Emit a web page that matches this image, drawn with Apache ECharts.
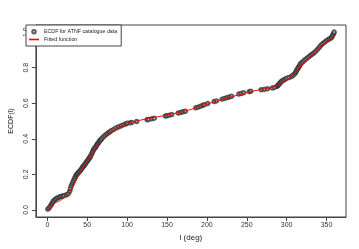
<!DOCTYPE html>
<html><head><meta charset="utf-8">
<script src="https://cdn.jsdelivr.net/npm/echarts@6/dist/echarts.min.js"></script>
<style>html,body{margin:0;padding:0;background:#fff}#c{width:359px;height:249px}</style>
</head><body><div id="c"></div>
<script>
// ECDF points: longitude l (deg) and ECDF value
var ecdfL = [0.5,2,3.5,5,6,7,8,9.5,11,13,15,17,19,21,24,26,
28,29,30,31,32,33,34,35,36,37,38,39,40,41,42,43,44,45,46,47,48,49,50,51,52,53,54,55,56,57,58,59,60,61,62,63,64,65,66,67,68,70,72,74,76,78,80,83,86,89,92,95,98,100,
104,106,112,125,127,131,134,148,150,153,156,164,167,170,173,186,189,192,195,197,201,209,212,219,222,225,228,231,240,243,246,253,255,268,272,276,282,285,
288,289,290,291,292,293,294,296,298,300,303,306,308,310,311,312,313,314,315,316,317,318,320,322,324,326,328,330,332,334,336,338,340,342,344,346,348,350,352,354,356,357,358,359,359.5];
var ecdfF = [0.004,0.01,0.02,0.03,0.037,0.045,0.052,0.058,0.063,0.068,0.072,0.075,0.078,0.08,0.085,0.09,
0.105,0.12,0.135,0.145,0.155,0.165,0.175,0.185,0.195,0.2,0.205,0.21,0.215,0.22,0.225,0.232,0.24,0.245,0.25,0.255,0.262,0.27,0.275,0.28,0.288,0.295,0.3,0.31,0.32,0.33,0.34,0.345,0.35,0.358,0.365,0.372,0.378,0.384,0.39,0.395,0.4,0.41,0.418,0.425,0.432,0.438,0.445,0.452,0.46,0.466,0.472,0.478,0.483,0.487,
0.49,0.492,0.497,0.507,0.509,0.513,0.516,0.528,0.53,0.533,0.536,0.545,0.548,0.552,0.555,0.574,0.578,0.583,0.588,0.592,0.598,0.609,0.613,0.623,0.627,0.631,0.635,0.639,0.652,0.655,0.659,0.665,0.667,0.676,0.678,0.681,0.686,0.689,
0.695,0.7,0.705,0.71,0.715,0.72,0.725,0.73,0.735,0.74,0.745,0.75,0.757,0.765,0.772,0.78,0.788,0.795,0.802,0.81,0.818,0.825,0.832,0.84,0.848,0.855,0.862,0.87,0.876,0.882,0.89,0.9,0.91,0.92,0.93,0.938,0.945,0.952,0.958,0.963,0.968,0.975,0.985,0.993,1.0];
// Fitted function
var fitL = [0,5,10,15,20,25,30,35,40,45,50,55,60,65,70,75,80,90,100,110,120,140,160,180,200,220,240,260,280,290,300,310,320,330,340,350,360];
var fitF = [0,0.025,0.04,0.05,0.065,0.085,0.12,0.16,0.2,0.24,0.275,0.31,0.345,0.375,0.4,0.42,0.44,0.465,0.485,0.497,0.508,0.525,0.543,0.565,0.595,0.622,0.647,0.67,0.688,0.703,0.73,0.77,0.82,0.865,0.91,0.945,0.975];
var xTicks = [0,50,100,150,200,250,300,350];
var yTicks = [0,0.2,0.4,0.6,0.8,1.0];
var yTickLabels = ['0.0','0.2','0.4','0.6','0.8','1.0'];
var seriesNames = ['ECDF for ATNF catalogue data','Fitted function'];

var ecdfData = ecdfL.map(function(v,i){return [v, ecdfF[i]];});
var fitData = fitL.map(function(v,i){return [v, fitF[i]];});
var FONT = 'Liberation Sans, Arial, sans-serif';
var chart = echarts.init(document.getElementById('c'), null, {renderer:'canvas'});
chart.setOption({
  animation:false,
  backgroundColor:'#fff',
  grid:{left:26,right:13,top:25,bottom:32,show:true,borderColor:'#444',borderWidth:1,backgroundColor:'transparent'},
  legend:{
    left:26, top:25, orient:'vertical',
    backgroundColor:'#fff', borderColor:'#444', borderWidth:1, borderRadius:0,
    padding:[4,4,4,3], itemGap:2.5, itemWidth:10, itemHeight:3.5,
    textStyle:{fontSize:5.3, fontFamily:FONT, color:'#222', padding:[0,0,0,0]},
    data:[{name:seriesNames[0], icon:'emptyCircle', itemStyle:{color:'#333',borderColor:'#333',borderWidth:0.5}},
          {name:seriesNames[1], icon:'path://M0,0L10,0L10,1.6L0,1.6Z', itemStyle:{color:'#ff0000',borderWidth:0}}]
  },
  xAxis:{type:'value',min:-14.4,max:374.4,
    name:'l (deg)',nameLocation:'middle',nameGap:16,nameTextStyle:{fontSize:8,fontFamily:FONT,color:'#222'},
    axisLine:{show:true,onZero:false,lineStyle:{color:'#444',width:1}},
    axisTick:{show:true,inside:false,length:4,customValues:xTicks,lineStyle:{color:'#444'}},
    axisLabel:{fontSize:7,fontFamily:FONT,color:'#333',margin:5,customValues:xTicks,showMinLabel:true,showMaxLabel:true},
    splitLine:{show:false}},
  yAxis:{type:'value',min:-0.04,max:1.04,
    name:'ECDF(l)',nameLocation:'middle',nameGap:20,nameRotate:90,nameTextStyle:{fontSize:7,fontFamily:FONT,color:'#222'},
    axisLine:{show:true,onZero:false,lineStyle:{color:'#444',width:1}},
    axisTick:{show:true,inside:false,length:4,customValues:yTicks,lineStyle:{color:'#444'}},
    axisLabel:{fontSize:7,fontFamily:FONT,color:'#333',margin:6,rotate:90,customValues:yTicks,
      formatter:function(v){var i=yTicks.indexOf(Math.round(v*10)/10);return i>=0?yTickLabels[i]:'';}},
    splitLine:{show:false}},
  series:[
    {name:seriesNames[0],type:'scatter',data:ecdfData,symbol:'emptyCircle',symbolSize:3.5,
      itemStyle:{color:'#333',borderColor:'#333',borderWidth:0.5},z:2},
    {name:seriesNames[1],type:'line',data:fitData,smooth:true,showSymbol:false,symbol:'none',
      lineStyle:{color:'#ff0000',width:1},itemStyle:{color:'#ff0000'},z:3}
  ]
});
</script></body></html>
